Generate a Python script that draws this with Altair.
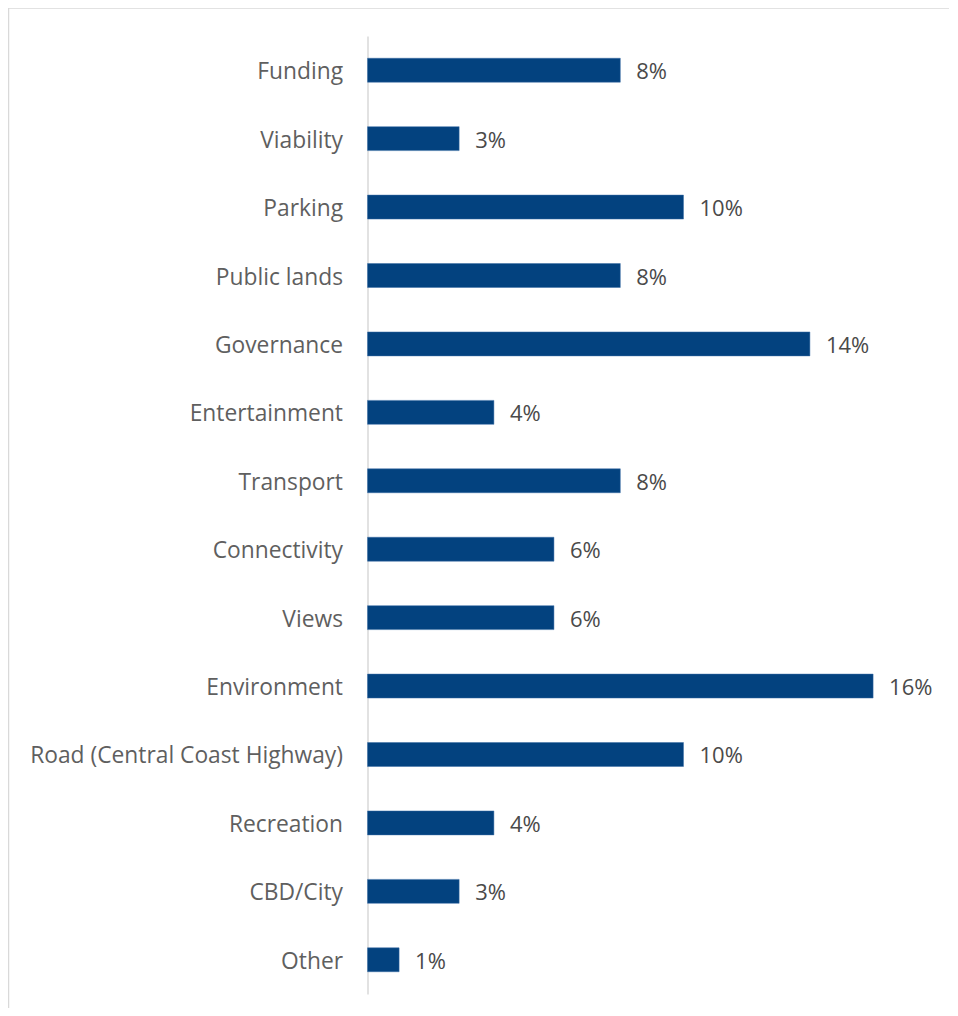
import altair as alt
import pandas as pd

categories = [
    "Funding", "Viability", "Parking", "Public lands", "Governance",
    "Entertainment", "Transport", "Connectivity", "Views", "Environment",
    "Road (Central Coast Highway)", "Recreation", "CBD/City", "Other",
]
values = [8.0, 2.9, 10.0, 8.0, 14.0, 4.0, 8.0, 5.9, 5.9, 16.0, 10.0, 4.0, 2.9, 1.0]

df = pd.DataFrame({"category": categories, "value": values})

FONT = "Open Sans"
BAR = "#03427f"

base = alt.Chart(df).encode(
    y=alt.Y(
        "category:N",
        sort=categories,
        title=None,
        scale=alt.Scale(paddingInner=0.65, paddingOuter=0.325),
        axis=alt.Axis(
            domainColor="#d9d9d9",
            domainWidth=1.5,
            ticks=False,
            labelPadding=25,
            labelOffset=2,
            labelFont=FONT,
            labelFontSize=22.8,
            labelColor="#5f5f5f",
            labelLimit=400,
        ),
    ),
    x=alt.X(
        "value:Q",
        title=None,
        scale=alt.Scale(domain=[0, 18], nice=False, zero=True),
        axis=None,
    ),
)

bars = base.mark_bar(color=BAR, stroke="#3a6ea5", strokeWidth=0.5)

labels = base.transform_calculate(
    label="format(datum.value, '.0f') + '%'"
).mark_text(
    align="left", baseline="middle", dx=16, dy=2, font=FONT, fontSize=22, color="#4a4a4a"
).encode(text="label:N")

border = alt.Chart(alt.Data(values=[{}])).mark_rect(
    fill=None, stroke="#d9d9d9", strokeWidth=1.5
).encode(
    x=alt.value(-359),
    x2=alt.value(700),
    y=alt.value(-28),
    y2=alt.value(1100),
)

chart = alt.layer(border, bars, labels).properties(
    width=568.8,
    height=958,
    padding={"left": 359.5, "top": 28, "right": 13, "bottom": 14},
    autosize=alt.AutoSizeParams(type="none"),
).configure_view(stroke=None)

chart.save("out.html", embed_options={"renderer": "svg", "actions": False})
